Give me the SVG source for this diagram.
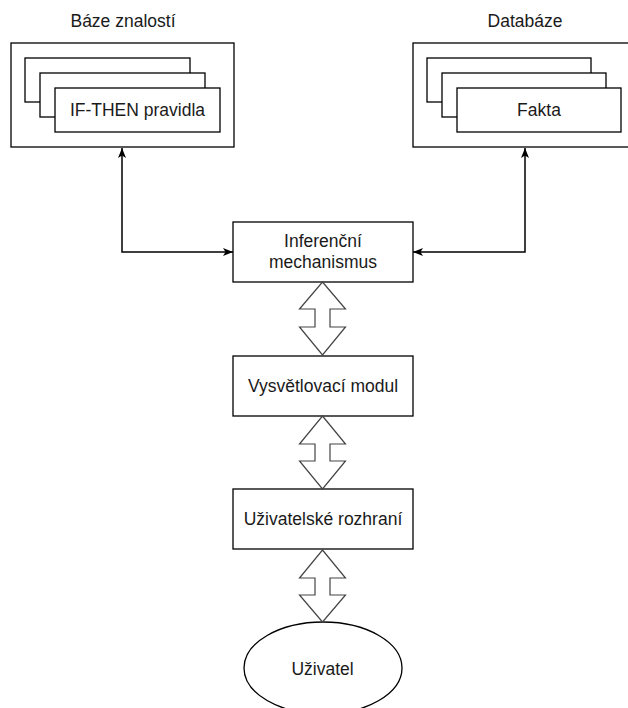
<svg xmlns="http://www.w3.org/2000/svg" width="628" height="708" viewBox="0 0 628 708">
<style>
.box{fill:#fff;stroke:#000;stroke-width:1.3}
.txt{font-family:"Liberation Sans",Arial,sans-serif;font-size:17.5px;fill:#1a1a1a;text-anchor:middle}
.con{fill:none;stroke:#000;stroke-width:1.5}
.dbl{fill:#fff;stroke:#444;stroke-width:1.2;stroke-linejoin:miter}
</style>
<defs>
<marker id="ah" viewBox="0 0 10 8" refX="10" refY="4" markerWidth="10" markerHeight="8" markerUnits="userSpaceOnUse" orient="auto-start-reverse">
<path d="M0,0 L10,4 L0,8 L2.5,4 Z" fill="#000"/>
</marker>
</defs>
<rect width="628" height="708" fill="#fff"/>

<g id="baze-znalosti">
<text class="txt" x="123" y="27">Báze znalostí</text>
<rect class="box" x="11" y="43" width="223" height="104"/>
<rect class="box" x="25" y="58" width="165" height="44"/>
<rect class="box" x="40" y="73" width="165" height="44"/>
<rect class="box" x="55" y="88" width="165" height="44"/>
<text class="txt" x="137.5" y="116">IF-THEN pravidla</text>
</g>

<g id="databaze">
<text class="txt" x="525" y="27">Databáze</text>
<rect class="box" x="413" y="43" width="223" height="104"/>
<rect class="box" x="427" y="58" width="164" height="44"/>
<rect class="box" x="442" y="73" width="164" height="44"/>
<rect class="box" x="457" y="88" width="164" height="44"/>
<text class="txt" x="539" y="116">Fakta</text>
</g>

<g id="inferencni-mechanismus">
<rect class="box" x="233" y="222" width="180" height="60"/>
<text class="txt" x="323" y="246.5">Inferenční</text>
<text class="txt" x="323" y="268">mechanismus</text>
</g>

<g id="vysvetlovaci-modul">
<rect class="box" x="233" y="356" width="180" height="60"/>
<text class="txt" x="323" y="391.5">Vysvětlovací modul</text>
</g>

<g id="uzivatelske-rozhrani">
<rect class="box" x="233" y="489" width="180" height="60"/>
<text class="txt" x="323" y="525">Uživatelské rozhraní</text>
</g>

<g id="uzivatel">
<ellipse class="box" cx="323" cy="668" rx="79" ry="46"/>
<text class="txt" x="322.5" y="675">Uživatel</text>
</g>

<g id="connectors">
<path class="con" d="M233,252 H122 V148" marker-start="url(#ah)" marker-end="url(#ah)"/>
<path class="con" d="M413,252 H525 V148" marker-start="url(#ah)" marker-end="url(#ah)"/>
<polygon class="dbl" points="322.5,282 345.5,309 330,309 330,327 345.5,327 322.5,355 299.5,327 315,327 315,309 299.5,309"/>
<polygon class="dbl" points="322.5,416 345.5,444 330,444 330,461 345.5,461 322.5,489 299.5,461 315,461 315,444 299.5,444"/>
<polygon class="dbl" points="322.5,550 345.5,578 330,578 330,595 345.5,595 322.5,622 299.5,595 315,595 315,578 299.5,578"/>
</g>
</svg>
